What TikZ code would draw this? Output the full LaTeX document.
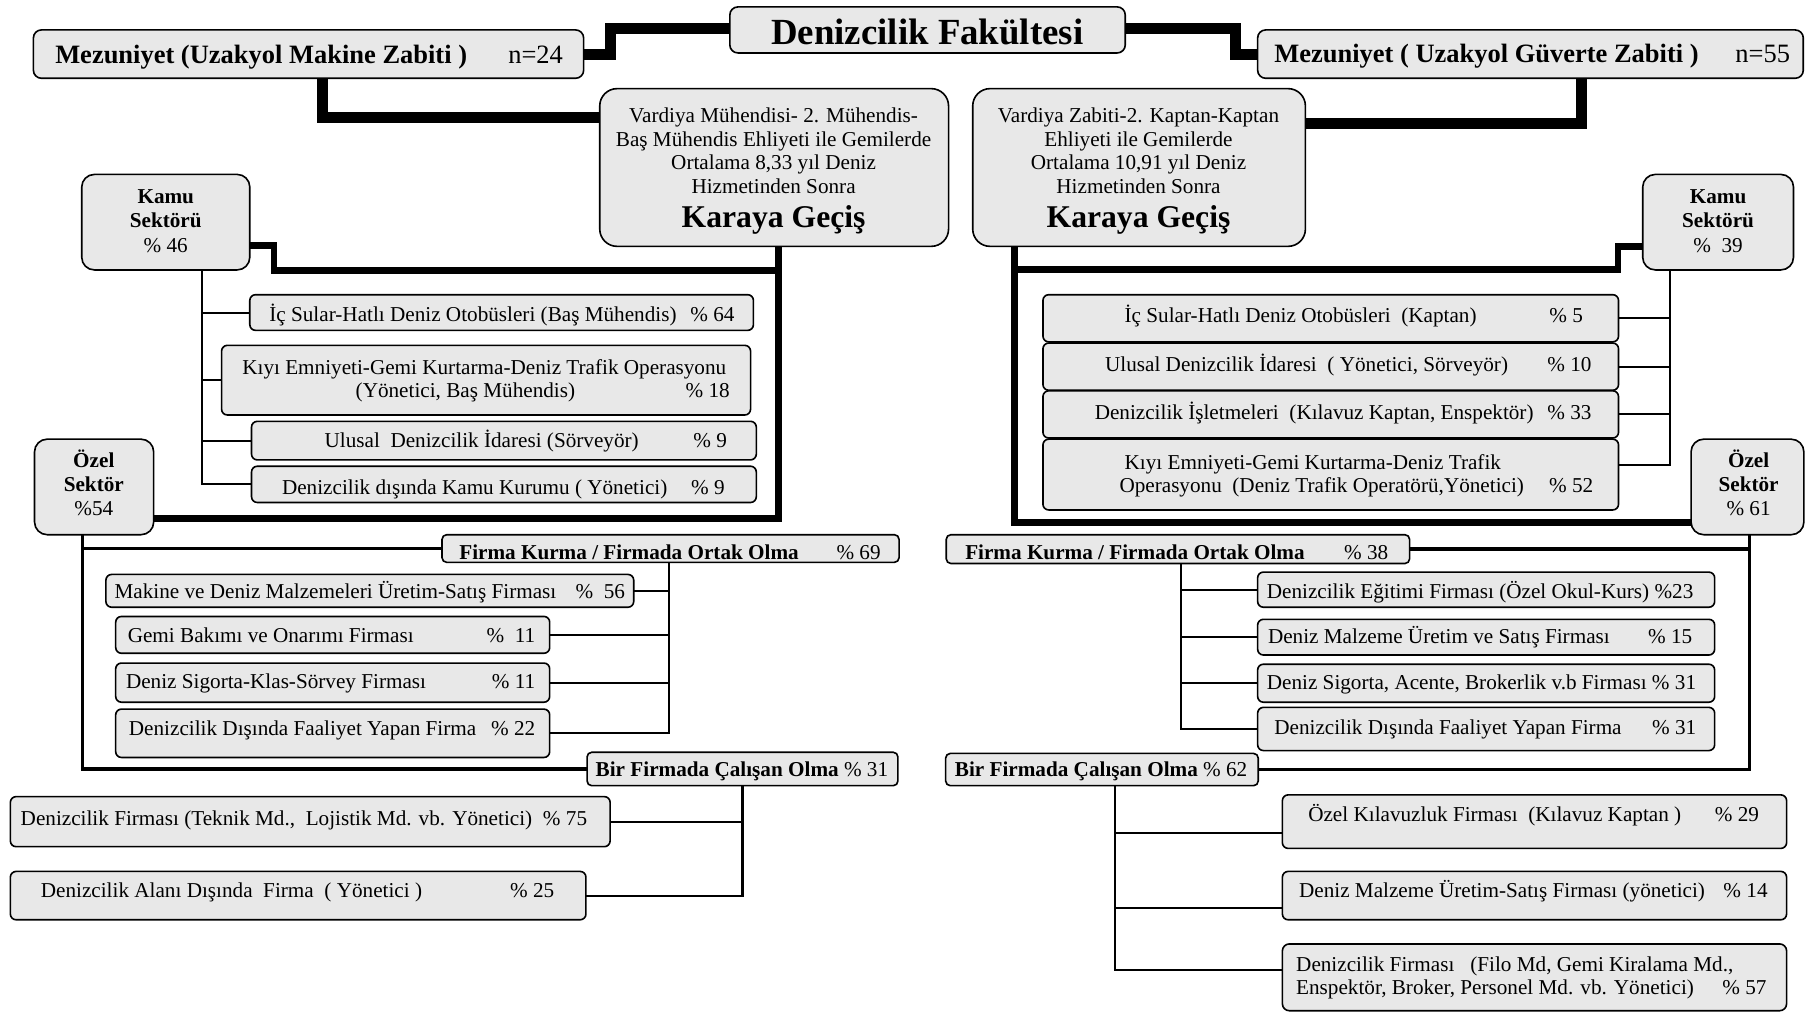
\documentclass[tikz,border=0pt]{standalone}
\usepackage{fontspec}
\setmainfont{Liberation Serif}
\definecolor{boxgray}{HTML}{E8E8E8}

% rounded box from corner coordinates: [radius]{name}{x1}{y1}{x2}{y2}
\newcommand\Bx[6][5]{%
  \node[cbox, rounded corners=#1pt,
        minimum width={(#5-#3)*1pt}, minimum height={(#6-#4)*1pt}]
        (#2) at ({(#3+#5)/2},{(#4+#6)/2}) {};}
% text lines placed by baseline
\newcommand\Tl[4]{\node[txt,anchor=base west] (#1) at (#2,#3) {#4};}
\newcommand\Tr[4]{\node[txt,anchor=base east] (#1) at (#2,#3) {#4};}
\newcommand\Tc[4]{\node[txt,anchor=base] (#1) at (#2,#3) {#4};}
% one entry line: name, text start, percent end, baseline, text, percent
\newcommand\Row[6]{\Tl{#1a}{#2}{#4}{#5}\Tr{#1p}{#3}{#4}{#6}}

\newcommand\titlefont{\fontsize{32}{36}\selectfont\bfseries}
\newcommand\mezfont{\fontsize{23}{26}\selectfont}
\newcommand\karfont{\fontsize{27.5}{31}\selectfont\bfseries}

\begin{document}
\begin{tikzpicture}[x=1pt,y=-1pt,
  cbox/.style={draw=black, line width=1.4pt, fill=boxgray, inner sep=0pt, outer sep=0pt},
  txt/.style={inner sep=0pt, outer sep=0pt, font=\fontsize{18.4}{20.5}\selectfont},
  heavy/.style={line width=9.5pt},
  mainline/.style={line width=6pt},
  sectorline/.style={line width=3pt},
  branch/.style={line width=1.8pt}]
\useasboundingbox (0,0) rectangle (1568,880);

% ---------- header ----------
\Bx[7]{title}{634}{6}{977.5}{46}
\Tc{titlet}{805.5}{39}{\titlefont Denizcilik Fakültesi}
\Bx[7]{lmez}{29}{26}{507}{68}
\Tl{lmezt}{48}{55}{\mezfont\bfseries Mezuniyet (Uzakyol Makine Zabiti )}
\Tr{lmezn}{489}{55}{\mezfont n=24}
\Bx[7]{rmez}{1092.5}{26}{1566.5}{68}
\Tl{rmezt}{1107}{54}{\mezfont\bfseries Mezuniyet ( Uzakyol Güverte Zabiti )}
\Tr{rmezn}{1555}{54}{\mezfont n=55}

\Bx[15]{lkar}{521}{77}{824}{214}
\Tc{lkar1}{672}{106}{Vardiya Mühendisi- 2. Mühendis-}
\Tc{lkar2}{672}{127}{Baş Mühendis Ehliyeti ile Gemilerde}
\Tc{lkar3}{672}{147.5}{Ortalama 8,33 yıl Deniz}
\Tc{lkar4}{672}{168}{Hizmetinden Sonra}
\Tc{lkar5}{672}{198}{\karfont Karaya Geçiş}
\Bx[15]{rkar}{845}{77}{1134}{214}
\Tc{rkar1}{989}{106}{Vardiya Zabiti-2. Kaptan-Kaptan}
\Tc{rkar2}{989}{127}{Ehliyeti ile Gemilerde}
\Tc{rkar3}{989}{147.5}{Ortalama 10,91 yıl Deniz}
\Tc{rkar4}{989}{168}{Hizmetinden Sonra}
\Tc{rkar5}{989}{198}{\karfont Karaya Geçiş}

% ---------- sector boxes ----------
\Bx[11]{lkamu}{71}{151.5}{217}{234.5}
\Tc{lkamu1}{144}{177}{\bfseries Kamu}
\Tc{lkamu2}{144}{198}{\bfseries Sektörü}
\Tc{lkamu3}{144}{219}{\% 46}
\Bx[11]{rkamu}{1427}{151.5}{1558}{234.5}
\Tc{rkamu1}{1492.5}{177}{\bfseries Kamu}
\Tc{rkamu2}{1492.5}{198}{\bfseries Sektörü}
\Tc{rkamu3}{1492.5}{219}{\%\ \ 39}
\Bx[11]{lozel}{30}{381.5}{133.5}{464.5}
\Tc{lozel1}{81.5}{406}{\bfseries Özel}
\Tc{lozel2}{81.5}{427}{\bfseries Sektör}
\Tc{lozel3}{81.5}{447.5}{\%54}
\Bx[11]{rozel}{1469}{381.5}{1567}{464.5}
\Tc{rozel1}{1519}{406}{\bfseries Özel}
\Tc{rozel2}{1519}{427}{\bfseries Sektör}
\Tc{rozel3}{1519}{447.5}{\% 61}

% ---------- public sector, engineers ----------
\Bx{k1}{217}{256}{654.5}{287}
\Row{k1}{234}{638}{279}{İç Sular-Hatlı Deniz Otobüsleri (Baş Mühendis)}{\% 64}
\Bx{k2}{192.5}{300}{652}{360.5}
\Tl{k2a}{210.5}{325.5}{Kıyı Emniyeti-Gemi Kurtarma-Deniz Trafik Operasyonu}
\Tl{k2b}{309}{345.5}{(Yönetici, Baş Mühendis)}
\Tr{k2p}{634}{345.5}{\% 18}
\Bx{k3}{218.5}{366}{657}{399.5}
\Row{k3}{282}{631.5}{389}{Ulusal~ Denizcilik İdaresi (Sörveyör)}{\% 9}
\Bx{k4}{218.5}{405}{657}{436.5}
\Row{k4}{245}{629.5}{429.5}{Denizcilik dışında Kamu Kurumu ( Yönetici)}{\% 9}

% ---------- public sector, deck officers ----------
\Bx{rk1}{906}{256}{1406}{297}
\Row{rk1}{977}{1375}{280.5}{İç Sular-Hatlı Deniz Otobüsleri~ (Kaptan)}{\% 5}
\Bx{rk2}{906}{298}{1406}{339}
\Row{rk2}{960}{1382.5}{322.5}{Ulusal Denizcilik İdaresi~ ( Yönetici, Sörveyör)}{\% 10}
\Bx{rk3}{906}{339.5}{1406}{380.5}
\Row{rk3}{951}{1382.5}{364.5}{Denizcilik İşletmeleri~ (Kılavuz Kaptan, Enspektör)}{\% 33}
\Bx{rk4}{906}{381.5}{1406}{443}
\Tl{rk4a}{977}{407.5}{Kıyı Emniyeti-Gemi Kurtarma-Deniz Trafik}
\Tl{rk4b}{972.5}{428}{Operasyonu~ (Deniz Trafik Operatörü,Yönetici)}
\Tr{rk4p}{1384}{428}{\% 52}

% ---------- private sector, engineers ----------
\Bx[4]{lfirma}{384}{464.5}{781}{488.5}
\Tl{lfirmaa}{399}{486}{\bfseries Firma Kurma / Firmada Ortak Olma}
\Tr{lfirmap}{765}{486}{\% 69}
\Bx{f1}{92}{499}{550.5}{527.5}
\Row{f1}{99.5}{543}{519.5}{Makine ve Deniz Malzemeleri Üretim-Satış Firması}{\%~ 56}
\Bx{f2}{100.5}{535.5}{477.5}{567.5}
\Row{f2}{111}{465}{558.5}{Gemi Bakımı ve Onarımı Firması}{\%~ 11}
\Bx{f3}{100.5}{576}{477.5}{610}
\Row{f3}{109.5}{465}{598}{Deniz Sigorta-Klas-Sörvey Firması}{\% 11}
\Bx{f4}{100.5}{616}{477.5}{658}
\Row{f4}{112}{465}{639}{Denizcilik Dışında Faaliyet Yapan Firma}{\% 22}
\Bx[4]{lbir}{510}{653.5}{780}{682.5}
\Tl{lbira}{517.5}{674.5}{\textbf{Bir Firmada Çalışan Olma} \% 31}
\Bx{b1}{9}{692}{530}{735.5}
\Row{b1}{18}{510}{717}{Denizcilik Firması (Teknik Md.,~ Lojistik Md. vb. Yönetici)}{\% 75}
\Bx{b2}{9}{757}{509}{799}
\Row{b2}{35.5}{481.5}{780}{Denizcilik Alanı Dışında~ Firma~ ( Yönetici )}{\% 25}

% ---------- private sector, deck officers ----------
\Bx[4]{rfirma}{822}{464.5}{1224.5}{489.5}
\Tl{rfirmaa}{838.5}{486}{\bfseries Firma Kurma / Firmada Ortak Olma}
\Tr{rfirmap}{1206}{486}{\% 38}
\Bx{rf1}{1092.5}{497}{1489.5}{527.5}
\Tl{rf1a}{1100.5}{519.5}{Denizcilik Eğitimi Firması (Özel Okul-Kurs) \%23}
\Bx{rf2}{1092.5}{538}{1489.5}{569}
\Row{rf2}{1101.5}{1470}{559}{Deniz Malzeme Üretim ve Satış Firması}{\% 15}
\Bx{rf3}{1092.5}{577}{1489.5}{610}
\Tl{rf3a}{1100.5}{599}{Deniz Sigorta, Acente, Brokerlik v.b Firması \% 31}
\Bx{rf4}{1092.5}{614.5}{1489.5}{652}
\Row{rf4}{1107}{1473.5}{638}{Denizcilik Dışında Faaliyet Yapan Firma}{\% 31}
\Bx[4]{rbir}{821.5}{654.5}{1093}{682.5}
\Tl{rbira}{829.5}{674.5}{\textbf{Bir Firmada Çalışan Olma} \% 62}
\Bx{rb1}{1114}{690.5}{1552}{737}
\Row{rb1}{1136.5}{1528}{713.5}{Özel Kılavuzluk Firması~ (Kılavuz Kaptan )}{\% 29}
\Bx{rb2}{1114}{757}{1552}{799}
\Row{rb2}{1128.5}{1535.5}{780}{Deniz Malzeme Üretim-Satış Firması (yönetici)}{\% 14}
\Bx[6]{rb3}{1114}{820}{1552}{878}
\Tl{rb3a}{1126}{844}{Denizcilik Firması~~ (Filo Md, Gemi Kiralama Md.,}
\Tl{rb3b}{1126}{864}{Enspektör, Broker, Personel Md. vb. Yönetici)}
\Tr{rb3p}{1534.5}{864}{\% 57}

% ---------- heavy connectors from the top ----------
\coordinate (cta) at (530,25);
\coordinate (ctb) at (1073,25);
\coordinate (ctc) at (280,102);
\coordinate (ctd) at (1374,107);
\draw[heavy] (title.west |- cta) -- (cta) |- (lmez.east);
\draw[heavy] (title.east |- ctb) -- (ctb) |- (rmez.west);
\draw[heavy] (lmez.south -| ctc) |- (lkar.west |- ctc);
\draw[heavy] (rmez.south -| ctd) |- (rkar.east |- ctd);

% ---------- trunks below the two career boxes ----------
\coordinate (cla) at (676.5,450.5);
\coordinate (clb) at (238,235);
\coordinate (clc) at (0,213);
\draw[mainline] (lkar.south -| cla) -- (cla) -- (lozel.east |- cla);
\draw[mainline] (cla |- clb) -- (clb) |- (lkamu.east |- clc);
\coordinate (cra) at (881,453.5);
\coordinate (crb) at (1405.5,234.5);
\coordinate (crc) at (0,214);
\draw[mainline] (rkar.south -| cra) -- (cra) -- (rozel.west |- cra);
\draw[mainline] (cra |- crb) -- (crb) |- (rkamu.west |- crc);

% ---------- public sector branches ----------
\coordinate (clk) at (175.5,0);
\draw[branch] (lkamu.south -| clk) |- (k4.west);
\foreach \n in {k1,k2,k3} \draw[branch] (clk |- \n.west) -- (\n.west);
\coordinate (crk) at (1451,404);
\draw[branch] (rkamu.south -| crk) -- (crk) -- (rk4.east |- crk);
\foreach \n in {rk1,rk2,rk3} \draw[branch] (crk |- \n.east) -- (\n.east);

% ---------- private sector branches ----------
\coordinate (clo) at (71.5,0);
\draw[sectorline] (lozel.south -| clo) |- (lbir.west);
\draw[sectorline] (clo |- lfirma.west) -- (lfirma.west);
\coordinate (cro) at (1520,0);
\draw[sectorline] (rozel.south -| cro) |- (rbir.east);
\draw[sectorline] (cro |- rfirma.east) -- (rfirma.east);

\coordinate (clf) at (581,0);
\draw[branch] (lfirma.south -| clf) |- (f4.east);
\foreach \n in {f1,f2,f3} \draw[branch] (clf |- \n.east) -- (\n.east);
\coordinate (crf) at (1026,0);
\draw[branch] (rfirma.south -| crf) |- (rf4.west);
\foreach \n in {rf1,rf2,rf3} \draw[branch] (crf |- \n.west) -- (\n.west);

\coordinate (clbt) at (645,0);
\draw[branch] (lbir.south -| clbt) |- (b2.east);
\draw[branch] (clbt |- b1.east) -- (b1.east);
\coordinate (crbt) at (968.3,843);
\coordinate (crb1) at (968.3,724);
\coordinate (crb2) at (968.3,789);
\draw[branch] (rbir.south -| crbt) -- (crbt) -- (rb3.west |- crbt);
\draw[branch] (crb1) -- (rb1.west |- crb1);
\draw[branch] (crb2) -- (rb2.west |- crb2);
\end{tikzpicture}
\end{document}
